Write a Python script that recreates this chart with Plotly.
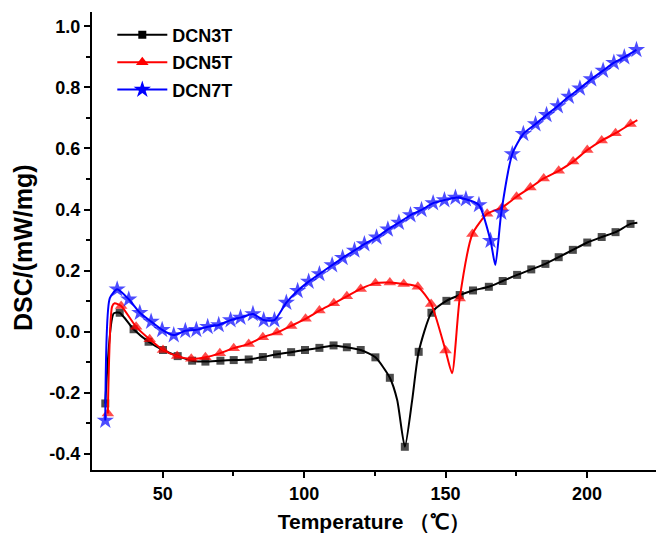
import plotly.graph_objects as go

# ---- data (temperature in °C, DSC in mW/mg) ----
# marker flag: 1 = point drawn with a marker, 0 = curve-only point
t3 = [29.7, 32.7, 34.8, 39.7, 45.0, 50.1, 55.3, 60.4, 65.1, 70.4, 75.1, 80.4, 85.4, 90.4, 95.4,
      100.3, 105.4, 110.4, 115.1, 120.0, 125.2, 130.3, 132.9, 135.6, 138.2, 140.5, 145.0, 150.3,
      155.0, 159.7, 165.3, 170.2, 175.3, 180.3, 185.3, 190.0, 195.0, 200.1, 205.2, 210.1, 215.4, 217.8]
v3 = [-0.235, 0.060, 0.062, 0.008, -0.033, -0.060, -0.080, -0.095, -0.098, -0.095, -0.093, -0.091,
      -0.083, -0.074, -0.067, -0.060, -0.053, -0.045, -0.051, -0.060, -0.084, -0.151, -0.224, -0.377,
      -0.224, -0.066, 0.062, 0.101, 0.120, 0.135, 0.147, 0.166, 0.186, 0.204, 0.222, 0.244, 0.268,
      0.292, 0.310, 0.326, 0.353, 0.357]
m3 = [1, 0, 1, 1, 1, 1, 1, 1, 1, 1, 1, 1, 1, 1, 1, 1, 1, 1, 1, 1, 1, 1, 0, 1, 0, 1, 1, 1, 1, 1,
      1, 1, 1, 1, 1, 1, 1, 1, 1, 1, 1, 0]

t5 = [30.6, 32.1, 33.0, 35.3, 40.6, 45.4, 50.1, 55.1, 60.1, 65.1, 70.2, 75.1, 80.4, 85.4, 90.4,
      95.4, 100.5, 105.4, 110.5, 115.1, 120.0, 125.2, 130.3, 135.2, 140.2, 144.9, 150.0, 152.3,
      155.0, 159.5, 164.7, 170.0, 175.1, 180.0, 184.7, 190.0, 195.1, 200.1, 205.2, 210.1, 215.4, 217.8]
v5 = [-0.268, 0.082, 0.093, 0.084, 0.016, -0.025, -0.060, -0.080, -0.089, -0.084, -0.071, -0.054,
      -0.040, -0.018, -0.003, 0.019, 0.042, 0.069, 0.093, 0.116, 0.140, 0.159, 0.161, 0.156, 0.147,
      0.091, -0.062, -0.136, 0.109, 0.320, 0.386, 0.407, 0.442, 0.472, 0.502, 0.527, 0.557, 0.595,
      0.626, 0.650, 0.680, 0.693]
m5 = [1, 0, 0, 1, 1, 1, 1, 1, 1, 1, 1, 1, 1, 1, 1, 1, 1, 1, 1, 1, 1, 1, 1, 1, 1, 1, 1, 0, 1, 1,
      1, 1, 1, 1, 1, 1, 1, 1, 1, 1, 1, 0]

t7 = [29.7, 31.3, 33.9, 38.0, 41.9, 45.9, 49.8, 53.9, 58.0, 61.9, 65.9, 69.8, 74.0, 77.5, 81.9,
      85.7, 89.5, 93.7, 97.7, 101.6, 105.4, 109.9, 113.6, 117.8, 121.3, 125.6, 129.6, 133.5, 137.6,
      141.5, 145.6, 149.6, 153.5, 157.2, 161.8, 165.9, 167.6, 169.7, 173.6, 177.5, 181.8, 185.7,
      189.7, 193.6, 197.5, 201.5, 205.7, 209.5, 213.2, 217.5]
v7 = [-0.291, 0.110, 0.139, 0.106, 0.062, 0.033, 0.006, -0.011, 0.003, 0.006, 0.016, 0.022, 0.038,
      0.046, 0.058, 0.038, 0.038, 0.095, 0.134, 0.164, 0.189, 0.218, 0.242, 0.266, 0.287, 0.309,
      0.335, 0.357, 0.382, 0.399, 0.421, 0.431, 0.439, 0.434, 0.415, 0.298, 0.218, 0.390, 0.582,
      0.648, 0.680, 0.710, 0.739, 0.770, 0.797, 0.827, 0.855, 0.881, 0.899, 0.923]
m7 = [1, 0, 1, 1, 1, 1, 1, 1, 1, 1, 1, 1, 1, 1, 1, 1, 1, 1, 1, 1, 1, 1, 1, 1, 1, 1, 1, 1, 1, 1,
      1, 1, 1, 1, 1, 1, 0, 1, 1, 1, 1, 1, 1, 1, 1, 1, 1, 1, 1, 1]

names = ["DCN3T", "DCN5T", "DCN7T"]
colors = ["#000000", "#ff0000", "#0000ff"]
symbols = ["square", "triangle-up", "star"]
msizes = [8, 11, 13]

x_ticks = [50, 100, 150, 200]
y_ticks = [-0.4, -0.2, 0.0, 0.2, 0.4, 0.6, 0.8, 1.0]
y_ticktext = ["-0.4", "-0.2", "0.0", "0.2", "0.4", "0.6", "0.8", "1.0"]

FONT = "Liberation Sans, Arial, sans-serif"

fig = go.Figure()
series = [(t3, v3, m3), (t5, v5, m5), (t7, v7, m7)]
for (tx, vy, mk), name, col, sym, ms in zip(series, names, colors, symbols, msizes):
    fig.add_trace(go.Scatter(
        x=tx, y=vy, mode="lines+markers", showlegend=False, legendgroup=name,
        line=dict(color=col, width=2, shape="spline", smoothing=0.6),
        marker=dict(symbol=sym, color=col, size=[ms * f for f in mk], line=dict(width=0)),
        hoverinfo="skip"))
    fig.add_trace(go.Scatter(
        x=[None], y=[None], mode="lines+markers", name=name, legendgroup=name,
        line=dict(color=col, width=2),
        marker=dict(symbol=sym, color=col, size=ms, line=dict(width=0))))

axis_common = dict(
    showline=True, linecolor="black", linewidth=2, mirror=False,
    ticks="outside", ticklen=6, tickwidth=2, tickcolor="black",
    showgrid=False, zeroline=False,
    tickfont=dict(family=FONT, size=18, color="black", weight="bold"),
)

fig.update_xaxes(
    range=[25, 224.4], tickmode="array", tickvals=x_ticks,
    minor=dict(tickmode="array", tickvals=[75, 125, 175, 225], ticks="outside",
               ticklen=4, tickwidth=2, tickcolor="black"),
    title=dict(text="Temperature （℃）", font=dict(family=FONT, size=21, color="black",
               weight="bold"), standoff=12),
    **axis_common)
fig.update_yaxes(
    range=[-0.453, 1.047], tickmode="array", tickvals=y_ticks, ticktext=y_ticktext,
    minor=dict(tickmode="array", tickvals=[-0.3, -0.1, 0.1, 0.3, 0.5, 0.7, 0.9],
               ticks="outside", ticklen=4, tickwidth=2, tickcolor="black"),
    **axis_common)

fig.add_annotation(
    text="DSC/(mW/mg)", textangle=-90, xref="paper", yref="paper",
    x=-0.1223, y=0.4847, xanchor="center", yanchor="middle", showarrow=False,
    font=dict(family=FONT, size=25, color="black", weight="bold"))

fig.update_layout(
    width=656, height=534,
    margin=dict(l=92, r=0, t=12, b=64),
    plot_bgcolor="white", paper_bgcolor="white",
    showlegend=True,
    legend=dict(x=0.036, y=0.99, xanchor="left", yanchor="top",
                bgcolor="rgba(0,0,0,0)", itemwidth=50, traceorder="grouped",
                tracegroupgap=1,
                font=dict(family=FONT, size=18, color="black", weight="bold")),
)

fig.write_html("out.html")
